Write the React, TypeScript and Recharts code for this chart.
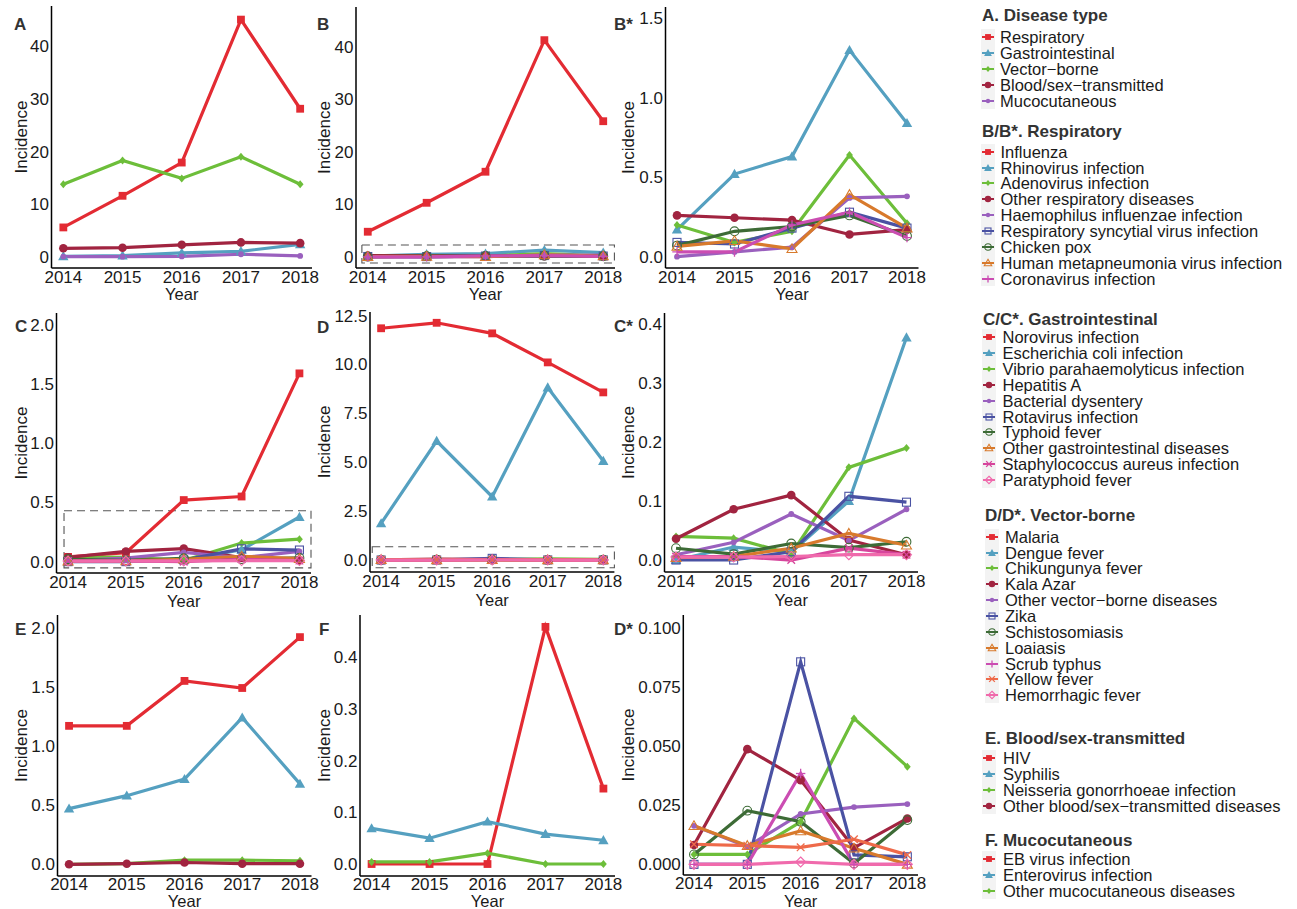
import { LineChart, Line, XAxis, YAxis, ReferenceArea } from 'recharts';

const YEARS = [2014, 2015, 2016, 2017, 2018];

const RED = '#E32B33';
const BLUE = '#55A0C0';
const GREEN = '#6DBE3A';
const DARKRED = '#A12440';
const PURPLE = '#9A60BE';
const INDIGO = '#4A52A3';
const DARKGREEN = '#3D6B36';
const ORANGE = '#D87A2C';
const MAGENTA = '#CB4DB2';
const ROSE = '#D6459C';
const CORAL = '#EE6A4A';
const PINK = '#F06AAC';

// A. Disease type
const typeNames = ['Respiratory', 'Gastrointestinal', 'Vector−borne', 'Blood/sex−transmitted', 'Mucocutaneous'];
const typeValues = [
  [5.6, 11.6, 17.9, 45.0, 28.1],
  [0.13, 0.28, 0.78, 1.08, 2.4],
  [13.8, 18.3, 14.9, 19.0, 13.8],
  [1.64, 1.76, 2.31, 2.76, 2.62],
  [0.07, 0.05, 0.1, 0.52, 0.19],
];
const typeShapes = ['square', 'triangle', 'diamond', 'circle', 'dot'];
const typeColors = [RED, BLUE, GREEN, DARKRED, PURPLE];

// B/B*. Respiratory
const respNames = [
  'Influenza', 'Rhinovirus infection', 'Adenovirus infection', 'Other respiratory diseases',
  'Haemophilus influenzae infection', 'Respiratory syncytial virus infection', 'Chicken pox',
  'Human metapneumonia virus infection', 'Coronavirus infection',
];
const respValues = [
  [4.8, 10.3, 16.2, 41.2, 25.8],
  [0.17, 0.52, 0.63, 1.3, 0.84],
  [0.2, 0.09, 0.16, 0.64, 0.21],
  [0.26, 0.245, 0.23, 0.14, 0.17],
  [0.0, 0.03, 0.06, 0.37, 0.38],
  [0.09, 0.08, 0.18, 0.28, 0.18],
  [0.07, 0.16, 0.19, 0.26, 0.13],
  [0.065, 0.1, 0.05, 0.39, 0.18],
  [0.03, 0.03, 0.2, 0.28, 0.12],
];
const respShapes = ['square', 'triangle', 'diamond', 'circle', 'dot', 'squareOpen', 'circleOpen', 'triangleOpen', 'plus'];
const respColors = [RED, BLUE, GREEN, DARKRED, PURPLE, INDIGO, DARKGREEN, ORANGE, MAGENTA];

// C/C*. Gastrointestinal
const gastroNames = [
  'Norovirus infection', 'Escherichia coli infection', 'Vibrio parahaemolyticus infection', 'Hepatitis A',
  'Bacterial dysentery', 'Rotavirus infection', 'Typhoid fever', 'Other gastrointestinal diseases',
  'Staphylococcus aureus infection', 'Paratyphoid fever',
];
const gastroValues = [
  [0.04, 0.075, 0.52, 0.55, 1.59],
  [0.0, 0.022, 0.013, 0.1, 0.377],
  [0.04, 0.037, 0.01, 0.157, 0.19],
  [0.036, 0.086, 0.11, 0.034, 0.009],
  [0.009, 0.03, 0.078, 0.033, 0.086],
  [0.0, 0.0, 0.014, 0.108, 0.098],
  [0.02, 0.01, 0.028, 0.021, 0.031],
  [0.004, 0.006, 0.02, 0.045, 0.025],
  [0.006, 0.006, 0.0, 0.02, 0.009],
  [0.005, 0.005, 0.006, 0.009, 0.009],
];
const gastroShapes = ['square', 'triangle', 'diamond', 'circle', 'dot', 'squareOpen', 'circleOpen', 'triangleOpen', 'cross', 'diamondOpen'];
const gastroColors = [RED, BLUE, GREEN, DARKRED, PURPLE, INDIGO, DARKGREEN, ORANGE, ROSE, PINK];

// D/D*. Vector-borne
const vectorNames = [
  'Malaria', 'Dengue fever', 'Chikungunya fever', 'Kala Azar', 'Other vector−borne diseases', 'Zika',
  'Schistosomiasis', 'Loaiasis', 'Scrub typhus', 'Yellow fever', 'Hemorrhagic fever',
];
const vectorValues = [
  [11.82, 12.1, 11.56, 10.08, 8.55],
  [1.87, 6.07, 3.23, 8.8, 5.05],
  [0.0042, 0.0042, 0.018, 0.0617, 0.0413],
  [0.0082, 0.0487, 0.0356, 0.007, 0.0194],
  [0.0163, 0.0075, 0.0213, 0.0242, 0.0255],
  [0.0, 0.0, 0.0856, 0.004, 0.0032],
  [0.0042, 0.0227, 0.018, 0.0004, 0.0187],
  [0.0163, 0.0079, 0.0141, 0.0068, 0.0],
  [0.0, 0.0, 0.0384, 0.0, 0.0],
  [0.0085, 0.0079, 0.0072, 0.0106, 0.004],
  [0.0, 0.0, 0.001, 0.0, 0.0],
];
const vectorShapes = ['square', 'triangle', 'diamond', 'circle', 'dot', 'squareOpen', 'circleOpen', 'triangleOpen', 'plus', 'cross', 'diamondOpen'];
const vectorColors = [RED, BLUE, GREEN, DARKRED, PURPLE, INDIGO, DARKGREEN, ORANGE, MAGENTA, CORAL, PINK];

// E. Blood/sex-transmitted
const bloodNames = ['HIV', 'Syphilis', 'Neisseria gonorrhoeae infection', 'Other blood/sex−transmitted diseases'];
const bloodValues = [
  [1.17, 1.17, 1.55, 1.49, 1.92],
  [0.47, 0.58, 0.72, 1.24, 0.68],
  [0.0, 0.005, 0.035, 0.035, 0.03],
  [0.0, 0.005, 0.015, 0.005, 0.005],
];
const bloodShapes = ['square', 'triangle', 'diamond', 'circle'];
const bloodColors = [RED, BLUE, GREEN, DARKRED];

// F. Mucocutaneous
const mucoNames = ['EB virus infection', 'Enterovirus infection', 'Other mucocutaneous diseases'];
const mucoValues = [
  [0.0, 0.0, 0.0, 0.459, 0.146],
  [0.069, 0.05, 0.082, 0.058, 0.046],
  [0.004, 0.004, 0.021, 0.0, 0.0],
];
const mucoShapes = ['square', 'triangle', 'diamond'];
const mucoColors = [RED, BLUE, GREEN];

const FONT = '"Liberation Sans", Arial, Helvetica, sans-serif';
const TEXT = '#1a1a1a';
const COL_LEFT = [0, 310, 612];
const YLABEL_X = [20.5, 324, 628];

function Marker({ shape, cx, cy, color, s = 1 }: any) {
  if (cx == null || cy == null) return null;
  switch (shape) {
    case 'square': {
      const h = 3.9 * s;
      return <rect x={cx - h} y={cy - h} width={2 * h} height={2 * h} fill={color} />;
    }
    case 'triangle': {
      const h = 5.2 * s;
      return <polygon points={`${cx},${cy - h} ${cx + h},${cy + h * 0.75} ${cx - h},${cy + h * 0.75}`} fill={color} />;
    }
    case 'diamond': {
      const h = 4 * s;
      return <polygon points={`${cx},${cy - h} ${cx + h * 0.85},${cy} ${cx},${cy + h} ${cx - h * 0.85},${cy}`} fill={color} />;
    }
    case 'circle':
      return <circle cx={cx} cy={cy} r={4.3 * s} fill={color} />;
    case 'dot':
      return <circle cx={cx} cy={cy} r={2.9 * s} fill={color} />;
    case 'squareOpen': {
      const h = 4 * s;
      return <rect x={cx - h} y={cy - h} width={2 * h} height={2 * h} fill="none" stroke={color} strokeWidth={1.1} />;
    }
    case 'circleOpen':
      return <circle cx={cx} cy={cy} r={4.4 * s} fill="none" stroke={color} strokeWidth={1.1} />;
    case 'triangleOpen': {
      const h = 5 * s;
      return <polygon points={`${cx},${cy - h} ${cx + h},${cy + h * 0.75} ${cx - h},${cy + h * 0.75}`} fill="none" stroke={color} strokeWidth={1.1} />;
    }
    case 'plus': {
      const h = 4.7 * s;
      return (
        <g stroke={color} strokeWidth={1.3}>
          <line x1={cx - h} y1={cy} x2={cx + h} y2={cy} />
          <line x1={cx} y1={cy - h} x2={cx} y2={cy + h} />
        </g>
      );
    }
    case 'cross': {
      const h = 3.8 * s;
      return (
        <g stroke={color} strokeWidth={1.3}>
          <line x1={cx - h} y1={cy - h} x2={cx + h} y2={cy + h} />
          <line x1={cx - h} y1={cy + h} x2={cx + h} y2={cy - h} />
        </g>
      );
    }
    case 'diamondOpen': {
      const h = 5 * s;
      return <polygon points={`${cx},${cy - h} ${cx + h},${cy} ${cx},${cy + h} ${cx - h},${cy}`} fill="none" stroke={color} strokeWidth={1.1} />;
    }
    default:
      return null;
  }
}

const panels = [
  { label: 'A', values: typeValues, shapes: typeShapes, colors: typeColors, from: 0, col: 0, tm: 3,
    px0: 51.5, px1: 312, py0: 6, py1: 268, xh: 32, domain: [-2.09, 47.58], ticks: [0, 10, 20, 30, 40], digits: 0 },
  { label: 'B', values: respValues, shapes: respShapes, colors: respColors, from: 0, col: 1, tm: 3,
    px0: 356, px1: 615, py0: 7, py1: 268, xh: 32, domain: [-2.09, 47.5], ticks: [0, 10, 20, 30, 40], digits: 0,
    box: { x1: 2013.9, x2: 2018.19, y1: -1.14, y2: 2.28 } },
  { label: 'B*', values: respValues, shapes: respShapes, colors: respColors, from: 1, col: 2, tm: 3,
    px0: 665.5, px1: 918.5, py0: 7, py1: 268, xh: 32, domain: [-0.071, 1.571], ticks: [0, 0.5, 1, 1.5], digits: 1 },
  { label: 'C', values: gastroValues, shapes: gastroShapes, colors: gastroColors, from: 0, col: 0, tm: 3,
    px0: 56.5, px1: 311, py0: 313, py1: 573, xh: 34, domain: [-0.096, 2.1], ticks: [0, 0.5, 1, 1.5, 2], digits: 1,
    box: { x1: 2013.93, x2: 2018.2, y1: -0.053, y2: 0.43 } },
  { label: 'D', values: vectorValues, shapes: vectorShapes, colors: vectorColors, from: 0, col: 1, tm: 3,
    px0: 370, px1: 614.4, py0: 312, py1: 572, xh: 34, domain: [-0.61, 12.65], ticks: [0, 2.5, 5, 7.5, 10, 12.5], digits: 1,
    box: { x1: 2013.84, x2: 2018.2, y1: -0.39, y2: 0.68 } },
  { label: 'C*', values: gastroValues, shapes: gastroShapes, colors: gastroColors, from: 1, col: 2, tm: 3,
    px0: 664.5, px1: 918, py0: 313, py1: 572, xh: 34, domain: [-0.0203, 0.4186], ticks: [0, 0.1, 0.2, 0.3, 0.4], digits: 1 },
  { label: 'E', values: bloodValues, shapes: bloodShapes, colors: bloodColors, from: 0, col: 0, tm: 1.5,
    px0: 57.5, px1: 311.5, py0: 615, py1: 876, xh: 31, domain: [-0.099, 2.107], ticks: [0, 0.5, 1, 1.5, 2], digits: 1 },
  { label: 'F', values: mucoValues, shapes: mucoShapes, colors: mucoColors, from: 0, col: 1, tm: 1.5,
    px0: 360, px1: 615, py0: 615, py1: 876, xh: 31, domain: [-0.0232, 0.482], ticks: [0, 0.1, 0.2, 0.3, 0.4], digits: 1 },
  { label: 'D*', values: vectorValues, shapes: vectorShapes, colors: vectorColors, from: 2, col: 2, tm: 1.5,
    px0: 683.3, px1: 918, py0: 615, py1: 875, xh: 32, domain: [-0.0045, 0.1054], ticks: [0, 0.025, 0.05, 0.075, 0.1], digits: 3 },
];

const labelPos: Record<string, [number, number]> = {
  A: [14, 25], B: [317, 25], 'B*': [614, 25],
  C: [15, 327], D: [317, 328], 'C*': [614, 327],
  E: [15, 630], F: [319, 630], 'D*': [614, 630],
};

function PanelChart({ p }: any) {
  const colLeft = COL_LEFT[p.col];
  const top = p.py0 - 6;
  const width = p.px1 - colLeft + 10;
  const height = p.py1 - top + p.xh + 4;
  const rows = YEARS.map((year, i) => {
    const r: any = { year };
    p.values.forEach((v: number[], k: number) => { r['s' + k] = v[i]; });
    return r;
  });
  return (
    <div style={{ position: 'absolute', left: colLeft, top }}>
      <LineChart width={width} height={height} data={rows} margin={{ top: 6, right: 10, left: 0, bottom: 4 }}>
        <XAxis
          dataKey="year"
          type="number"
          domain={[2013.8, 2018.2]}
          ticks={YEARS}
          allowDataOverflow
          height={p.xh}
          tickLine={false}
          tickSize={0}
          tickMargin={p.tm}
          axisLine={{ stroke: '#000', strokeWidth: 1.5 }}
          tick={{ fontSize: 17, fill: TEXT, fontFamily: FONT }}
          label={{ value: 'Year', position: 'insideBottom', offset: 0, fontSize: 16.5, fill: TEXT, fontFamily: FONT }}
        />
        <YAxis
          type="number"
          domain={p.domain}
          ticks={p.ticks}
          allowDataOverflow
          width={p.px0 - colLeft}
          tickLine={false}
          tickSize={0}
          tickMargin={2.5}
          axisLine={{ stroke: '#000', strokeWidth: 1.5 }}
          tick={{ fontSize: 17, fill: TEXT, fontFamily: FONT }}
          tickFormatter={(v: number) => v.toFixed(p.digits)}
          label={{
            value: 'Incidence', angle: -90, position: 'insideLeft', offset: YLABEL_X[p.col] - colLeft,
            style: { textAnchor: 'middle' }, fontSize: 17, fill: TEXT, fontFamily: FONT,
          }}
        />
        {p.box && (
          <ReferenceArea
            x1={p.box.x1} x2={p.box.x2} y1={p.box.y1} y2={p.box.y2}
            fill="none" fillOpacity={0} stroke="#555" strokeWidth={1.1} strokeDasharray="8 5" ifOverflow="visible"
          />
        )}
        {p.values.map((_: number[], k: number) =>
          k < p.from ? null : (
            <Line
              key={k}
              type="linear"
              dataKey={'s' + k}
              stroke={p.colors[k]}
              strokeWidth={3.2}
              isAnimationActive={false}
              activeDot={false}
              dot={(dp: any) => (
                <Marker key={`d${k}-${dp.index}`} shape={p.shapes[k]} cx={dp.cx} cy={dp.cy} color={p.colors[k]} />
              )}
            />
          )
        )}
      </LineChart>
    </div>
  );
}

const legendGroups = [
  { title: 'A. Disease type', names: typeNames, shapes: typeShapes, colors: typeColors, titleY: 16, firstY: 37.3, tx: 982, mx: 988, lx: 1000 },
  { title: 'B/B*. Respiratory', names: respNames, shapes: respShapes, colors: respColors, titleY: 132, firstY: 151.7, tx: 982, mx: 988, lx: 1000.5 },
  { title: 'C/C*. Gastrointestinal', names: gastroNames, shapes: gastroShapes, colors: gastroColors, titleY: 320, firstY: 337.3, tx: 983, mx: 989, lx: 1002.5 },
  { title: 'D/D*. Vector-borne', names: vectorNames, shapes: vectorShapes, colors: vectorColors, titleY: 516, firstY: 536.7, tx: 985, mx: 992, lx: 1005 },
  { title: 'E. Blood/sex-transmitted', names: bloodNames, shapes: bloodShapes, colors: bloodColors, titleY: 739.3, firstY: 758.3, tx: 985, mx: 989, lx: 1003 },
  { title: 'F. Mucocutaneous', names: mucoNames, shapes: mucoShapes, colors: mucoColors, titleY: 840.7, firstY: 859.3, tx: 985, mx: 989, lx: 1003 },
];
const LEGEND_STEP = 15.85;

function LegendBlock({ g }: any) {
  const n = g.names.length;
  return (
    <>
      <div style={{
        position: 'absolute', left: g.tx, top: g.titleY - 10, height: 20, lineHeight: '20px',
        fontSize: 17, fontWeight: 'bold', color: '#333', whiteSpace: 'nowrap',
      }}>
        {g.title}
      </div>
      <div style={{
        position: 'absolute', left: g.mx - 7, top: g.firstY - LEGEND_STEP / 2,
        width: 14, height: n * LEGEND_STEP, background: '#f3f3f3',
      }} />
      {g.names.map((name: string, i: number) => {
        const cy = g.firstY + i * LEGEND_STEP;
        return (
          <div key={name}>
            <svg width={16} height={16} style={{ position: 'absolute', left: g.mx - 8, top: cy - 8 }}>
              <line x1={2} y1={8} x2={14} y2={8} stroke={g.colors[i]} strokeWidth={2} />
              <Marker shape={g.shapes[i]} cx={8} cy={8} color={g.colors[i]} s={0.75} />
            </svg>
            <div style={{
              position: 'absolute', left: g.lx, top: cy - 9, height: 18, lineHeight: '18px',
              fontSize: 16.5, color: TEXT, whiteSpace: 'nowrap',
            }}>
              {name}
            </div>
          </div>
        );
      })}
    </>
  );
}

export default function App() {
  return (
    <div style={{
      position: 'absolute', left: 0, top: 0, width: 1297, height: 909, background: '#fff',
      fontFamily: FONT, overflow: 'hidden',
    }}>
      {panels.map((p) => (
        <PanelChart key={p.label} p={p} />
      ))}
      {panels.map((p) => (
        <div key={'lab' + p.label} style={{
          position: 'absolute', left: labelPos[p.label][0], top: labelPos[p.label][1] - 10,
          height: 20, lineHeight: '20px', fontSize: 17, fontWeight: 'bold', color: '#333',
        }}>
          {p.label}
        </div>
      ))}
      {legendGroups.map((g) => (
        <LegendBlock key={g.title} g={g} />
      ))}
    </div>
  );
}
